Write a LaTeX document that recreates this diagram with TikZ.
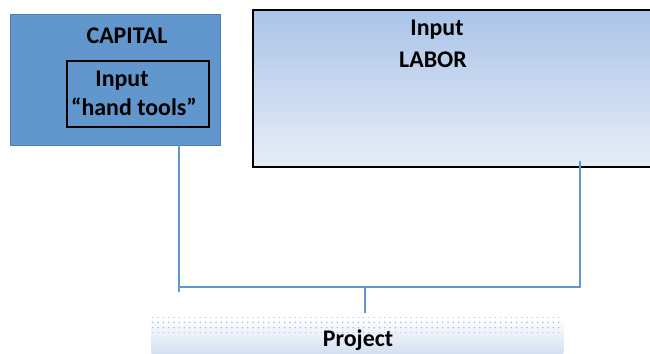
\documentclass[tikz,border=0pt]{standalone}
\usepackage{fontspec}
\setmainfont{Carlito}
\usepackage{tikz}
\usetikzlibrary{positioning, patterns, calc}

\definecolor{capfill}{RGB}{98,151,205}
\definecolor{capedge}{RGB}{78,124,178}
\definecolor{labtop}{RGB}{170,196,232}
\definecolor{labbot}{RGB}{231,237,247}
\definecolor{wire}{RGB}{98,150,204}
\definecolor{projfill}{RGB}{206,219,240}

\tikzset{
  boxtext/.style={font=\fontsize{13.6}{16}\selectfont\bfseries, inner sep=0pt},
  link/.style={draw=wire, line width=1.1pt}
}

\begin{document}
\begin{tikzpicture}[x=0.02cm, y=-0.02cm]
  \useasboundingbox (0,0) rectangle (650,354);

  % Capital box with the inner tools box
  \node (capital) [anchor=north west, draw=capedge, fill=capfill, line width=0.8pt,
    minimum width=4.2cm, minimum height=2.62cm, inner sep=0pt] at (10,14) {};
  \node (captitle) [boxtext] at (127,36) {CAPITAL};
  \node (tools) [anchor=north west, draw=black, line width=0.9pt,
    minimum width=2.84cm, minimum height=1.32cm, inner sep=0pt] at (66,60) {};
  \node (toolsa) [boxtext] at (122,81) {Input};
  \node (toolsb) [boxtext] at (134,107) {``hand tools''};

  % Labor box
  \node (labor) [anchor=north west, draw=black, line width=1.2pt,
    top color=labtop, bottom color=labbot,
    minimum width=8.1cm, minimum height=3.14cm, inner sep=0pt] at (252,9) {};
  \node (labora) [boxtext] at (437,30) {Input};
  \node (laborb) [boxtext] at (433,60) {LABOR};

  % Project bar (cut off at the bottom)
  \node (project) [anchor=north west, top color=white, bottom color=projfill,
    minimum width=8.24cm, minimum height=0.8cm, inner sep=0pt] at (151,318) {};
  \fill[pattern=dots, pattern color=projfill!70!blue!70] (151,318) rectangle (563,333);
  \node (projtext) [boxtext] at (358,340) {Project};

  % Connectors
  \coordinate (jl) at (179,287);
  \coordinate (jr) at (580,287);
  \coordinate (jm) at (365,287);
  \draw[link] (179,145) -- (179,292);
  \draw[link] (580,161) -- (jr) -- (jl);
  \draw[link] (jm) -- (365,313);
\end{tikzpicture}
\end{document}
